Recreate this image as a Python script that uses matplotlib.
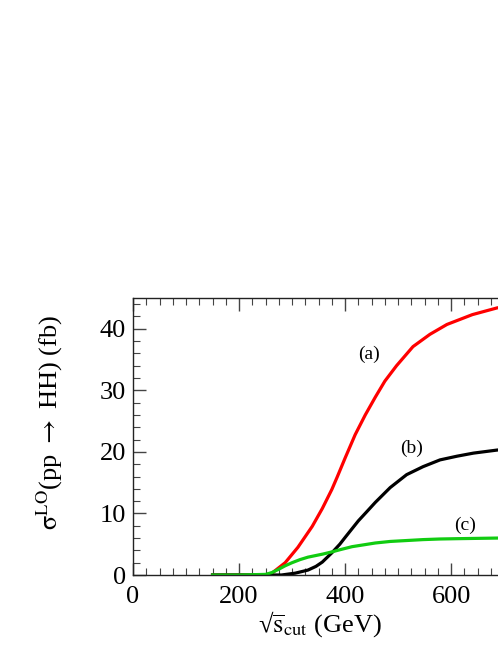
import matplotlib
matplotlib.use("Agg")
import matplotlib.pyplot as plt
from matplotlib.ticker import MultipleLocator

plt.rcParams['font.family'] = ['Liberation Serif', 'DejaVu Serif']
plt.rcParams['mathtext.fontset'] = 'stix'

# curve (a) - red
x_a = [150, 200, 250, 262, 287, 311, 338, 357, 375, 385, 400, 419, 438, 457, 475,
       497, 528, 560, 592, 640, 687, 750]
y_a = [0, 0, 0, 0.3, 2.0, 4.5, 7.9, 10.8, 13.9, 15.9, 19.0, 22.8, 26.0, 28.9, 31.5,
       34.0, 37.1, 39.1, 40.7, 42.3, 43.4, 44.3]

# curve (b) - black
x_b = [150, 200, 250, 280, 306, 330, 345, 357, 375, 390, 400, 412, 425, 440, 457,
       485, 516, 547, 579, 611, 642, 687, 750]
y_b = [0, 0, 0, 0, 0.3, 0.8, 1.4, 2.1, 3.6, 5.0, 6.1, 7.4, 8.8, 10.2, 11.8,
       14.2, 16.3, 17.6, 18.7, 19.3, 19.8, 20.3, 20.8]

# curve (c) - green
x_c = [150, 200, 250, 262, 274, 287, 300, 315, 330, 358, 375, 390, 413, 457, 485,
       516, 547, 579, 611, 687, 750]
y_c = [0, 0, 0.1, 0.4, 0.9, 1.5, 2.0, 2.5, 2.9, 3.4, 3.75, 4.1, 4.6, 5.2, 5.45,
       5.6, 5.75, 5.85, 5.9, 6.0, 6.05]

fig = plt.figure(figsize=(4.98, 6.45), dpi=100)
# axes run past the right edge of the figure, as in the reference
ax = fig.add_axes([133 / 498, 70 / 645, 403 / 498, 277 / 645])

ax.plot(x_a, y_a, color='#ff0000', lw=2.3)
ax.plot(x_b, y_b, color='black', lw=2.3)
ax.plot(x_c, y_c, color='#11cc11', lw=2.3)

ax.text(445, 35.8, '(a)', fontsize=14, ha='center', va='center')
ax.text(526, 20.6, '(b)', fontsize=14, ha='center', va='center')
ax.text(627, 8.1, '(c)', fontsize=14, ha='center', va='center')

ax.set_xlim(0, 760)
ax.set_ylim(0, 45)
ax.xaxis.set_major_locator(MultipleLocator(200))
ax.xaxis.set_minor_locator(MultipleLocator(25))
ax.yaxis.set_major_locator(MultipleLocator(10))
ax.yaxis.set_minor_locator(MultipleLocator(2))
ax.tick_params(which='both', direction='in', top=True, right=True, color='#444444')
ax.tick_params(which='major', length=9, width=1, labelsize=19)
ax.tick_params(axis='x', which='major', pad=8)
ax.tick_params(axis='y', which='major', pad=5)
ax.tick_params(which='minor', length=5, width=0.8)
for s in ax.spines.values():
    s.set_linewidth(1.0)
    s.set_color('#222222')

fig.text(320 / 498, 1 - 624 / 645, '√$\\overline{\\rm s}_{\\rm cut}$ (GeV)',
         fontsize=19, ha='center', va='center')
fig.text(50 / 498, 1 - 423 / 645,
         '$\\mathrm{\\sigma}^{\\rm LO}$(pp $\\rightarrow$ HH) (fb)',
         fontsize=19, ha='center', va='center', rotation=90)

fig.savefig('out.png', dpi=100)
